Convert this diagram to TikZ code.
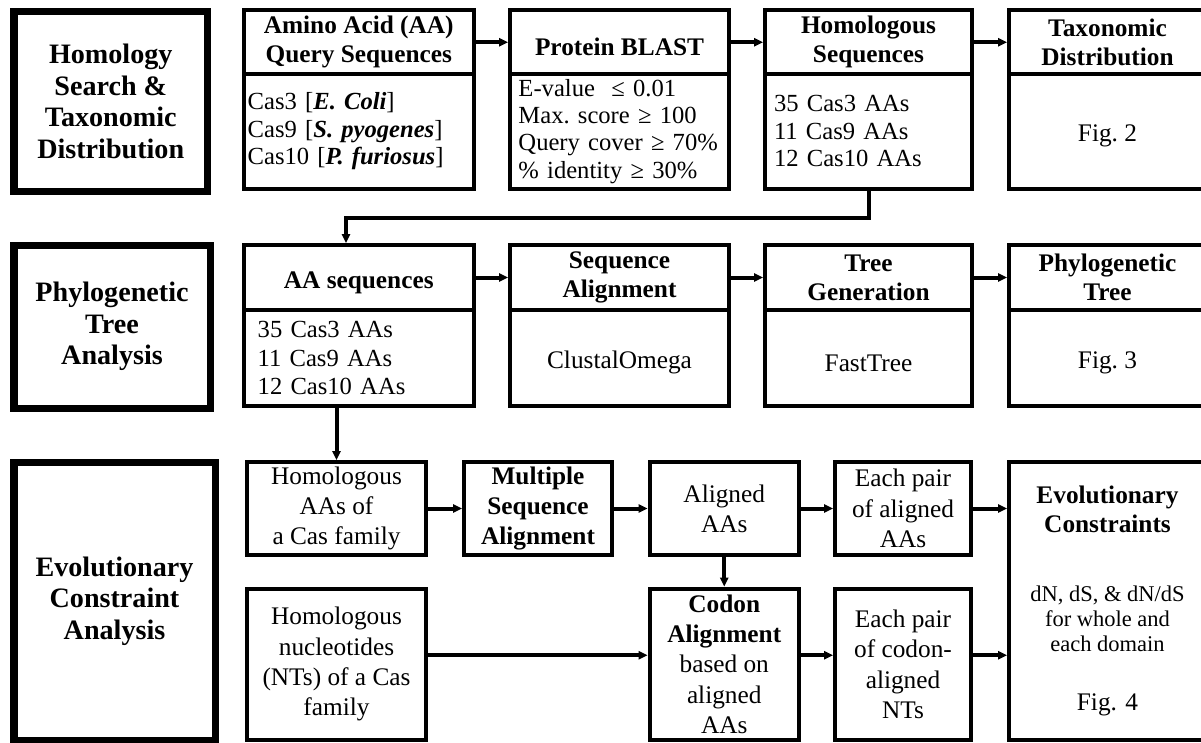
\documentclass[tikz,border=0pt]{standalone}
\usepackage{fontspec}
\setmainfont{Liberation Serif}
\usetikzlibrary{arrows.meta}
\newcommand\sidefont{\fontsize{20}{22.5}\selectfont\bfseries\frenchspacing}
\newcommand\headfont{\fontsize{18}{20.5}\selectfont\bfseries\frenchspacing}
\newcommand\listfont{\fontsize{17.5}{19.5}\selectfont\frenchspacing}
\newcommand\boxfont{\fontsize{18}{21.5}\selectfont\frenchspacing}
\begin{document}
\begin{tikzpicture}[x=0.025cm,y=-0.025cm,
  area/.style n args={4}{at={({(#1+#3)/2},{(#2+#4)/2})},
    minimum width={(#3-#1)*0.025cm},minimum height={(#4-#2)*0.025cm}},
  side/.style={draw,line width=0.175cm,inner sep=0pt,align=center,font=\sidefont},
  head/.style={draw,line width=0.1cm,inner sep=0pt,align=center,font=\headfont,
    execute at begin node={\rule{0pt}{19pt}}},
  cbody/.style={draw,line width=0.1cm,inner sep=0pt,align=center,font=\boxfont,
    execute at begin node={\rule{0pt}{19pt}}},
  body/.style={draw,line width=0.1cm,inner sep=0pt,align=left,font=\listfont,text width=#1},
  arr/.style={line width=0.1cm,-{Triangle[length=0.22cm,width=0.2cm]}}]
\useasboundingbox (0,0) rectangle (1201,742);
% homology search
\node[side,area={14}{11.5}{207.5}{191}] (hsearch) {Homology\\Search \&\\Taxonomic\\Distribution};
\node[head,area={243.5}{10.5}{474}{74}] (aaqry) {Amino Acid (AA)\\Query Sequences};
\node[body=5.55cm,area={243.5}{74}{474}{188.5}] (aaqryb) {Cas3 [\textbf{\textit{E. Coli}}]\\Cas9 [\textbf{\textit{S. pyogenes}}]\\Cas10 [\textbf{\textit{P. furiosus}}]};
\node[head,area={510}{10.5}{729}{74}] (blast) {Protein BLAST};
\node[body=5.05cm,area={510}{74}{729}{188.5}] (blastb) {E-value~ ≤ 0.01\\Max. score ≥ 100\\Query cover ≥ 70\%\\\% identity ≥ 30\%};
\node[head,area={765}{10.5}{972}{74}] (homseq) {Homologous\\Sequences};
\node[body=4.72cm,area={765}{74}{972}{188.5}] (homseqb) {35 Cas3 AAs\\11 Cas9 AAs\\12 Cas10 AAs};
\node[head,area={1009}{10.5}{1206}{74}] (taxo) {Taxonomic\\Distribution};
\node[cbody,area={1009}{74}{1206}{188.5}] (taxob) {Fig. 2};
\draw[arr] (aaqry.east) -- (blast.west);
\draw[arr] (blast.east) -- (homseq.west);
\draw[arr] (homseq.east) -- (taxo.west);
% phylogenetic tree
\node[side,area={14}{245}{210}{408}] (phylo) {Phylogenetic\\Tree\\Analysis};
\node[head,area={243.5}{245}{474}{310}] (aaseq) {AA sequences};
\node[body=5.05cm,area={243.5}{310}{474}{406},font=\fontsize{17.5}{20.5}\selectfont] (aaseqb) {35 Cas3 AAs\\11 Cas9 AAs\\12 Cas10 AAs};
\node[head,area={510}{245}{729}{310}] (seqal) {Sequence\\Alignment};
\node[cbody,area={510}{310}{729}{406}] (seqalb) {ClustalOmega};
\node[head,area={765}{245}{972}{310}] (treegen) {Tree\\Generation};
\node[cbody,area={765}{310}{972}{406}] (treegenb) {FastTree};
\node[head,area={1009}{245}{1206}{310}] (ptree) {Phylogenetic\\Tree};
\node[cbody,area={1009}{310}{1206}{406}] (ptreeb) {Fig. 3};
\coordinate (turn) at (346,218);
\draw[arr] (homseqb.south) |- (turn) -- (turn |- aaseq.north);
\draw[arr] (aaseq.east) -- (seqal.west);
\draw[arr] (seqal.east) -- (treegen.west);
\draw[arr] (treegen.east) -- (ptree.west);
% evolutionary constraint
\node[side,area={14}{462}{215}{740}] (evoan) {Evolutionary\\Constraint\\Analysis};
\node[cbody,area={247}{462}{426}{555}] (homaa) {Homologous\\AAs of\\a Cas family};
\node[head,area={464}{462}{612}{555},font=\boxfont\bfseries] (msa) {Multiple\\Sequence\\Alignment};
\node[cbody,area={649.5}{462}{799}{555}] (algaa) {Aligned\\AAs};
\node[cbody,area={835}{462}{971}{555}] (pairaa) {Each pair\\of aligned\\AAs};
\node[cbody,area={1009}{462}{1206}{740},font=\fontsize{16}{18}\selectfont] (evocon) {{\fontsize{18}{18}\selectfont\bfseries Evolutionary}\\[2.5pt]{\fontsize{18}{18}\selectfont\bfseries Constraints}\\[31pt]dN, dS, \& dN/dS\\for whole and\\each domain\\[24pt]{\fontsize{18}{18}\selectfont Fig. 4}};
\node[cbody,area={247}{588.5}{426}{740}] (homnt) {Homologous\\nucleotides\\(NTs) of a Cas\\family};
\node[cbody,area={649.5}{588.5}{799}{740}] (codon) {\textbf{Codon}\\\textbf{Alignment}\\based on\\aligned\\AAs};
\node[cbody,area={835}{588.5}{971}{740}] (pairnt) {Each pair\\of codon-\\aligned\\NTs};
\draw[arr] (aaseqb.south -| homaa.north) -- (homaa.north);
\draw[arr] (homaa.east) -- (msa.west);
\draw[arr] (msa.east) -- (algaa.west);
\draw[arr] (algaa.east) -- (pairaa.west);
\draw[arr] (pairaa.east) -- (pairaa.east -| evocon.west);
\draw[arr] (algaa.south) -- (codon.north);
\draw[arr] ([yshift=0.225cm]homnt.east) -- ([yshift=0.225cm]codon.west);
\draw[arr] ([yshift=0.225cm]codon.east) -- ([yshift=0.225cm]pairnt.west);
\draw[arr] ([yshift=0.225cm]pairnt.east) -- ([yshift=0.225cm]pairnt.east -| evocon.west);
\end{tikzpicture}
\end{document}
